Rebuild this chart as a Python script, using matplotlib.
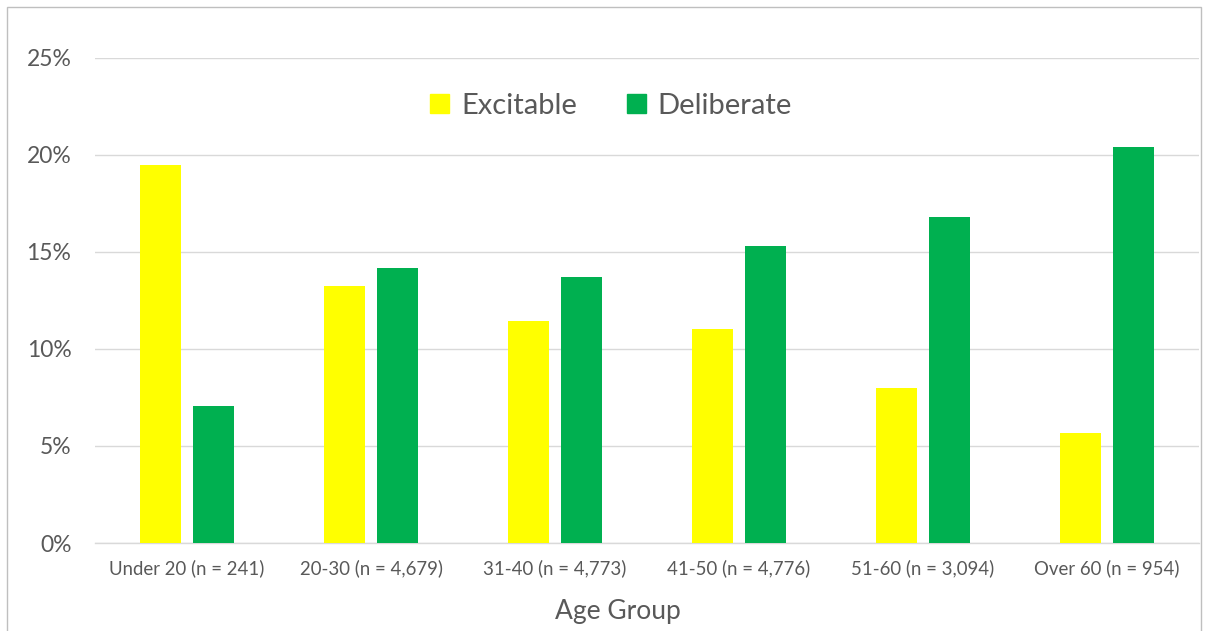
import matplotlib
matplotlib.use("Agg")
import matplotlib.pyplot as plt
from matplotlib.patches import Rectangle, Patch
import numpy as np

categories = ["Under 20 (n = 241)", "20-30 (n = 4,679)", "31-40 (n = 4,773)",
              "41-50 (n = 4,776)", "51-60 (n = 3,094)", "Over 60 (n = 954)"]
excitable = [19.5, 13.25, 11.45, 11.05, 8.0, 5.65]
deliberate = [7.05, 14.2, 13.7, 15.3, 16.8, 20.4]
yticks = [0, 5, 10, 15, 20, 25]

plt.rcParams['font.family'] = ['Lato', 'DejaVu Sans']
TXT = '#595959'
W, H = 1209, 631
fig = plt.figure(figsize=(W/100, H/100), dpi=100)
ax = fig.add_axes([95/W, 1-543/H, (1199-95)/W, (543-58)/H])

x = np.arange(len(categories))
bw = 0.223
off = 0.144
ax.bar(x - off, excitable, bw, color='#FFFF00', zorder=3, label='Excitable')
ax.bar(x + off, deliberate, bw, color='#00B050', zorder=3, label='Deliberate')

ax.set_xlim(-0.5, len(categories) - 0.5)
ax.set_ylim(0, 25)
ax.set_yticks(yticks)
ax.set_yticklabels([f"{v}%" for v in yticks], fontsize=16.5, color=TXT)
ax.set_xticks(x)
ax.set_xticklabels(categories, fontsize=13.4, color=TXT)
ax.tick_params(length=0)
ax.tick_params(axis='y', pad=17)
ax.tick_params(axis='x', pad=12)
ax.grid(axis='y', color='#D9D9D9', lw=1, zorder=0)
for s in ['top', 'right', 'left']:
    ax.spines[s].set_visible(False)
ax.spines['bottom'].set_color('#D9D9D9')
ax.spines['bottom'].set_linewidth(1)

fig.text(618/W, 1-611/H, "Age Group", ha='center', va='center', fontsize=19, color=TXT)

handles = [Patch(color='#FFFF00', label='Excitable'), Patch(color='#00B050', label='Deliberate')]
fig.legend(handles=handles, loc='center', bbox_to_anchor=(611/W, 1-106/H), ncol=2,
           frameon=False, fontsize=21, handlelength=0.65, handleheight=0.65,
           handletextpad=0.4, columnspacing=1.7, labelcolor=TXT)

fig.patches.append(Rectangle((7/W, -0.05), (1201-7)/W, 1-7/H + 0.05, transform=fig.transFigure,
                             fill=False, edgecolor='#BFBFBF', lw=1))

fig.savefig("out.png", dpi=100, facecolor='white')
